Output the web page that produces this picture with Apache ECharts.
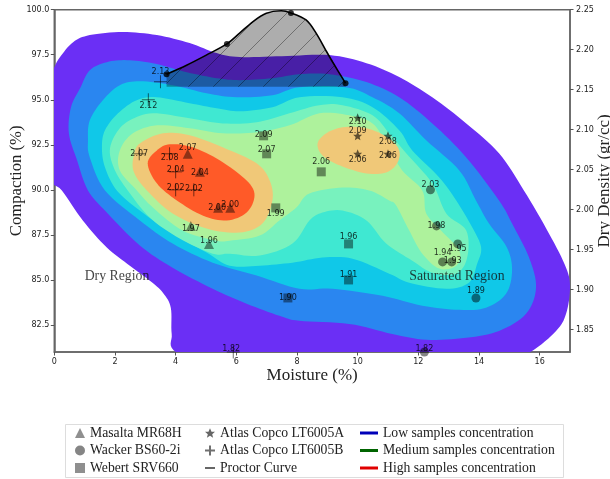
<!DOCTYPE html>
<html>
<head>
<meta charset="utf-8">
<style>html,body{margin:0;padding:0;background:#fff}#c{width:610px;height:479px}</style>
<script src="https://cdn.jsdelivr.net/npm/echarts@6/dist/echarts.min.js"></script>
</head>
<body>
<div id="c"></div>
<script>
// ---- tick values
const moistureTicks = [0, 2, 4, 6, 8, 10, 12, 14, 16];
const compactionTicks = [82.5, 85, 87.5, 90, 92.5, 95, 97.5, 100];
const densityTicks = [1.85, 1.9, 1.95, 2.0, 2.05, 2.1, 2.15, 2.2, 2.25];

// ---- density contours: [moisture, compaction], outermost first
const contourLow = [[-0.3,95.5],[-0.01,96.76],[0.19,97.37],[0.62,98.2],[1.17,98.59],[2.26,98.76],[3.38,98.59],[4.46,98.15],[5.35,97.59],[6.11,97.37],[7.5,97.42],[9.07,97.48],[10.29,97.03],[11.37,96.26],[12.46,95.14],[13.58,93.69],[14.66,92.03],[15.48,89.97],[16.31,87.57],[16.87,85.68],[17.0,84.57],[16.87,83.12],[16.54,82.17],[15.65,80.95],[14,79.5],[6,79.5],[4.04,80.95],[3.87,82.0],[3.84,83.46],[3.58,84.29],[3.15,84.96],[2.49,85.79],[1.73,86.8],[0.94,88.3],[0.25,89.97],[-0.3,91]];
const contourLowMid = [[0.48,93.14],[0.55,94.59],[0.85,95.64],[1.17,96.64],[1.73,97.09],[2.39,97.2],[3.25,97.03],[4.37,96.53],[5.35,96.2],[6.11,96.09],[7.19,96.2],[8.08,96.42],[9.07,96.42],[10.29,95.98],[11.37,95.14],[12.46,93.69],[13.58,91.8],[14.66,89.41],[15.09,88.13],[15.65,86.24],[15.88,84.57],[15.55,83.12],[14.66,82.17],[13.58,81.79],[12.26,81.68],[11.14,82.0],[9.72,82.56],[8.08,82.73],[7.42,83.01],[6.34,83.68],[5.22,84.51],[3.9,85.68],[2.82,86.91],[1.73,88.74],[1.11,89.97],[0.75,91.64]];
const contourCyan = [[1.11,92.75],[1.17,93.86],[1.6,94.98],[2.16,95.81],[2.82,96.03],[3.9,95.81],[5.02,95.36],[6.01,95.14],[7.19,95.25],[8.08,95.7],[9.6,95.7],[10.49,95.14],[11.37,94.25],[12.26,92.75],[13.35,91.08],[13.9,89.41],[14.33,88.13],[14.92,86.8],[15.09,85.52],[14.89,84.23],[14.23,83.46],[13.35,83.34],[12.13,83.57],[10.82,84.12],[9.17,84.51],[8.08,84.51],[6.67,85.24],[5.22,85.96],[3.9,87.02],[2.82,88.3],[1.67,89.97],[1.17,91.8]];
const contourTurquoise = [[1.57,92.36],[1.67,93.31],[2.1,94.25],[2.72,94.98],[3.38,95.14],[4.46,94.81],[5.35,94.53],[6.11,94.36],[7.19,94.59],[8.08,95.14],[9.5,95.14],[10.49,94.59],[11.37,93.31],[11.8,92.19],[12.69,90.69],[13.25,89.41],[13.78,87.91],[14.07,86.8],[13.94,85.9],[13.67,84.85],[12.92,84.51],[11.7,84.85],[11.04,85.35],[9.83,86.18],[8.84,86.24],[7.85,85.96],[6.77,85.79],[5.78,85.79],[5.02,86.52],[3.9,87.57],[2.82,88.85],[2.06,89.97],[1.67,91.25]];
const contourAqua = [[1.83,92.19],[2.06,93.2],[2.49,93.86],[3.25,94.25],[4.46,93.97],[5.55,93.69],[6.67,93.75],[7.75,94.25],[8.74,94.7],[9.5,94.7],[10.49,94.14],[11.04,93.14],[11.6,92.03],[12.46,90.36],[12.92,88.69],[13.58,87.74],[13.61,86.24],[13.25,85.35],[12.46,85.4],[11.8,86.07],[10.94,87.02],[10.29,88.3],[9.5,88.85],[8.84,88.74],[8.41,88.3],[7.85,87.02],[6.77,86.35],[5.78,86.46],[5.22,86.46],[4.13,87.3],[3.15,88.46],[2.42,89.97],[2.0,91.08]];
const contourGreen = [[2.16,92.19],[2.59,93.14],[3.38,93.58],[4.46,93.42],[5.55,93.14],[6.67,93.2],[7.75,93.58],[8.74,94.25],[9.72,94.14],[10.49,93.69],[10.94,92.58],[11.47,91.08],[12.13,89.97],[12.26,88.69],[12.75,87.74],[13.35,86.63],[13.25,85.79],[12.69,85.63],[12.13,86.46],[11.7,87.74],[11.27,89.13],[11.04,89.41],[10.38,89.97],[9.5,90.13],[8.41,89.8],[7.98,89.02],[7.42,88.3],[6.77,87.46],[5.78,87.18],[5.35,87.18],[4.23,87.74],[3.25,89.02],[2.72,89.97],[2.16,91.08]];
const contourTanLeft = [[2.62,91.9],[2.82,92.58],[3.58,93.14],[4.46,93.03],[5.55,92.36],[6.67,91.47],[7.1,90.52],[7.19,89.41],[6.86,88.13],[6.11,87.63],[5.02,87.85],[3.9,88.69],[3.05,89.97],[2.62,91.0]];
const contourTanRight = [[8.68,92.58],[8.97,93.14],[9.5,93.47],[10.29,93.42],[11.04,92.86],[11.37,92.19],[11.3,91.47],[10.94,90.97],[10.29,90.91],[9.4,91.36],[8.84,91.91]];
const contourRed = [[3.08,91.47],[3.38,92.19],[3.81,92.53],[4.56,92.36],[5.45,91.64],[6.34,90.52],[6.6,89.69],[6.34,88.74],[5.68,88.3],[4.89,88.58],[4.04,89.41],[3.38,90.36]];

// ---- proctor curve
const proctorCurve = [[3.7,96.42],[4.36,96.92],[5.01,97.48],[5.69,98.1],[6.11,98.7],[6.54,99.33],[6.99,99.8],[7.48,99.94],[7.8,99.82],[8.3,99.43],[8.63,98.7],[8.96,97.72],[9.17,97.11],[9.6,95.92]];
const proctorKnots = [[3.7,96.42],[5.69,98.1],[7.8,99.82],[9.6,95.92]];
const proctorBase = [[9.6,95.72],[3.7,95.72]];

// ---- samples: [moisture, compaction, dry density]
const masalta = [[4.4,92,2.07],[4.8,91,2.04],[5.8,89,2.00],[5.4,89,2.00],[4.5,88,1.97],[5.1,87,1.96]];
const wacker = [[12.4,90,2.03],[12.6,88,1.98],[13.3,87,1.95],[12.8,86,1.94],[13.1,86,1.93],[13.9,84,1.89],[12.2,81,1.82]];
const webert = [[6.9,93,2.09],[7,92,2.07],[8.8,91,2.06],[7.3,89,1.99],[9.7,87,1.96],[9.7,85,1.91],[7.7,84,1.90]];
const atlasA = [[10,94,2.10],[10,93,2.09],[11,93,2.08],[10,92,2.06],[11,92,2.06]];
const atlasB = [[3.5,96,2.13],[3.1,95,2.12],[2.8,92,2.07],[3.8,92,2.08],[4,91,2.04],[4,90,2.02],[4.6,90,2.02],[5.9,81,1.82]];

// ---- label nudges (layout only, px)
const masaltaShift = [[0,-6],[0,1],[0,-3],[-1,0],[0,3],[0,-3]];
const wackerShift = [[0,-5],[0,0],[0,5],[0,-9],[1,-1],[0,-7],[0,-3]];
const webertShift = [[0,-1],[0,-4],[0,-10],[0,6],[0,-7],[0,-5],[0,0]];
const atlasAShift = [[0,4],[0,-5],[0,6],[0,6],[0,2]];
const atlasBShift = [[0,-10],[0,6],[0,0],[0,4],[0,-2],[0,-2],[0,-1],[-2,-3]];

const regionLabels = [{name:'Dry Region',value:[1,85.2]},{name:'Saturated Region',value:[11.7,85.2]}];

const bands = [
  [contourLow,'#6B2FF5'],[contourLowMid,'#2A86F0'],[contourCyan,'#10C8E8'],[contourTurquoise,'#3FE8D2'],
  [contourAqua,'#78F2BE'],[contourGreen,'#AEF29C'],[contourTanLeft,'#F0C878'],[contourTanRight,'#F0C878'],[contourRed,'#FF5A28']
];

const SERIF = '"Liberation Serif","Times New Roman",serif';
const SANS = '"DejaVu Sans",sans-serif';
const MARK = 'rgba(0,0,0,0.55)';
const STAR = 'path://M0,-10L2.9,-3.1L9.5,-3.1L4.2,1.5L5.9,8.1L0,4.5L-5.9,8.1L-4.2,1.5L-9.5,-3.1L-2.9,-3.1Z';
const PLUS = 'path://M-10,0L10,0M0,-10L0,10';
const THIN = 'path://M0,0H20V2.4H0Z';

function hatchCanvas(){
  const s = 25, c = document.createElement('canvas');
  c.width = s; c.height = s;
  const g = c.getContext('2d');
  g.strokeStyle = 'rgba(0,0,0,0.45)'; g.lineWidth = 0.8;
  g.beginPath(); g.moveTo(-2,s+2); g.lineTo(s+2,-2); g.stroke();
  return c;
}
const hatch = hatchCanvas();

// Rounds a closed outline on screen (Catmull-Rom), so the band edges draw as curves.
function roundedOutline(pts){
  const out = [], n = pts.length;
  for (let i = 0; i < n; i++){
    const p0 = pts[(i-1+n)%n], p1 = pts[i], p2 = pts[(i+1)%n], p3 = pts[(i+2)%n];
    for (let k = 0; k < 8; k++){
      const t = k/8, t2 = t*t, t3 = t2*t;
      out.push([0,1].map(d => 0.5*(2*p1[d] + (p2[d]-p0[d])*t + (2*p0[d]-5*p1[d]+4*p2[d]-p3[d])*t2 + (3*p1[d]-p0[d]-3*p2[d]+p3[d])*t3)));
    }
  }
  return out;
}
function bandSeries(points, color){
  return {
    type:'custom', coordinateSystem:'cartesian2d', clip:true, silent:true, z:1,
    data:points, encode:{x:0,y:1},
    renderItem(params, api){
      if (params.dataIndex !== 0) return null;
      return {type:'polygon', shape:{points:roundedOutline(points.map(p=>api.coord(p)))}, style:{fill:color}};
    }
  };
}
function proctorArea(){
  const outline = proctorCurve.concat(proctorBase);
  return {
    type:'custom', coordinateSystem:'cartesian2d', clip:true, silent:true, z:3,
    data:outline, encode:{x:0,y:1},
    renderItem(params, api){
      if (params.dataIndex !== 0) return null;
      const pts = outline.map(p=>api.coord(p));
      return {type:'group', children:[
        {type:'polygon', shape:{points:pts}, style:{fill:'rgba(0,0,0,0.32)'}},
        {type:'polygon', shape:{points:pts}, style:{fill:{image:hatch, repeat:'repeat'}}}
      ]};
    }
  };
}
function sampleSeries(name, rows, shift, symbol, size, extra){
  return Object.assign({
    name, type:'scatter', symbol, symbolSize:size, z:5, silent:true,
    itemStyle:{color:MARK},
    data:rows.map((r,i)=>({value:r, label:{offset:shift[i]}})),
    label:{show:true, position:'inside', color:'#000', fontSize:8, fontFamily:SANS,
      formatter:p=>p.value[2].toFixed(2)}
  }, extra||{});
}
function legendCol(left, names, icon){
  return {
    left, top:426, orient:'vertical', itemGap:3.5, itemWidth:icon?10:18, itemHeight:icon?10:3, padding:0,
    data:names, textStyle:{fontFamily:SERIF, fontSize:13.7, color:'#222'}, selectedMode:false
  };
}

const option = {
  animation:false, backgroundColor:'#fff',
  grid:{left:54.3, right:40, top:9.7, bottom:127, show:true, borderColor:'#666', borderWidth:1.5, backgroundColor:'#fff', containLabel:false, outerBoundsMode:'none'},
  xAxis:{type:'value', min:0, max:17,
    name:'Moisture (%)', nameLocation:'middle', nameGap:15, nameMoveOverlap:false,
    nameTextStyle:{fontFamily:SERIF, fontSize:17, color:'#222'},
    axisLine:{onZero:false, lineStyle:{color:'#666', width:1.5}},
    axisTick:{customValues:moistureTicks, length:3.5, lineStyle:{color:'#555'}},
    axisLabel:{customValues:moistureTicks, fontFamily:SANS, fontSize:8, color:'#222', margin:6},
    splitLine:{show:false}},
  yAxis:[
    {type:'value', min:81, max:100,
     name:'Compaction (%)', nameLocation:'middle', nameGap:29, nameMoveOverlap:false,
     nameTextStyle:{fontFamily:SERIF, fontSize:16.7, color:'#222'},
     axisLine:{onZero:false, lineStyle:{color:'#666', width:1.5}},
     axisTick:{customValues:compactionTicks, length:3.5, lineStyle:{color:'#555'}},
     axisLabel:{customValues:compactionTicks, fontFamily:SANS, fontSize:8, color:'#222', margin:5,
       formatter:v=>v.toFixed(1)},
     splitLine:{show:false}},
    {type:'value', min:1.822, max:2.25, position:'right',
     name:'Dry Density (gr/cc)', nameLocation:'middle', nameGap:26, nameMoveOverlap:false,
     nameTextStyle:{fontFamily:SERIF, fontSize:17, color:'#222'},
     axisLine:{onZero:false, show:true, lineStyle:{color:'#666', width:1.5}},
     axisTick:{show:true, customValues:densityTicks, length:3.5, lineStyle:{color:'#555'}},
     axisLabel:{customValues:densityTicks, fontFamily:SANS, fontSize:8, color:'#222', margin:6,
       formatter:v=>v.toFixed(2)},
     splitLine:{show:false}}
  ],
  graphic:[{type:'rect', silent:true, shape:{x:65.5,y:424.5,width:498,height:53},
    style:{fill:'#fff', stroke:'#ddd', lineWidth:1}, z:-1}],
  legend:[
    legendCol(75, ['Masalta MR68H','Wacker BS60-2i','Webert SRV660'], true),
    legendCol(204, ['Atlas Copco LT6005A','Atlas Copco LT6005B',{name:'Proctor Curve', icon:THIN}], true),
    Object.assign(legendCol(360, ['Low samples concentration','Medium samples concentration','High samples concentration'], false), {icon:'rect'})
  ],
  series:[
    ...bands.map(b=>bandSeries(b[0], b[1])),
    proctorArea(),
    {name:'Proctor Curve', type:'line', data:proctorCurve, smooth:0.3, showSymbol:false, z:4, silent:true,
     lineStyle:{color:'#000', width:1.6}, itemStyle:{color:'#000'}, symbol:'none'},
    {type:'scatter', data:proctorKnots, symbolSize:6, z:4, silent:true, itemStyle:{color:'#000'}},
    sampleSeries('Masalta MR68H', masalta, masaltaShift, 'triangle', 10),
    sampleSeries('Wacker BS60-2i', wacker, wackerShift, 'circle', 9, {itemStyle:{color:'rgba(0,0,0,0.6)'}}),
    sampleSeries('Webert SRV660', webert, webertShift, 'rect', 9),
    sampleSeries('Atlas Copco LT6005A', atlasA, atlasAShift, STAR, 9, {itemStyle:{color:'rgba(0,0,0,0.75)'}}),
    sampleSeries('Atlas Copco LT6005B', atlasB, atlasBShift, PLUS, 13,
      {itemStyle:{color:'transparent', borderColor:'rgba(0,0,0,0.7)', borderWidth:1}}),
    {type:'scatter', data:regionLabels, symbolSize:0, z:6, silent:true,
     label:{show:true, position:'right', distance:0, formatter:'{b}', fontFamily:SERIF, fontSize:13.8, color:'#111'}},
    {name:'Low samples concentration', type:'line', data:[], symbol:'none', lineStyle:{color:'#0000b8', width:3}, itemStyle:{color:'#0000b8'}},
    {name:'Medium samples concentration', type:'line', data:[], symbol:'none', lineStyle:{color:'#006400', width:3}, itemStyle:{color:'#006400'}},
    {name:'High samples concentration', type:'line', data:[], symbol:'none', lineStyle:{color:'#e00000', width:3}, itemStyle:{color:'#e00000'}}
  ]
};
echarts.init(document.getElementById('c'), null, {renderer:'canvas'}).setOption(option);
</script>
</body>
</html>
